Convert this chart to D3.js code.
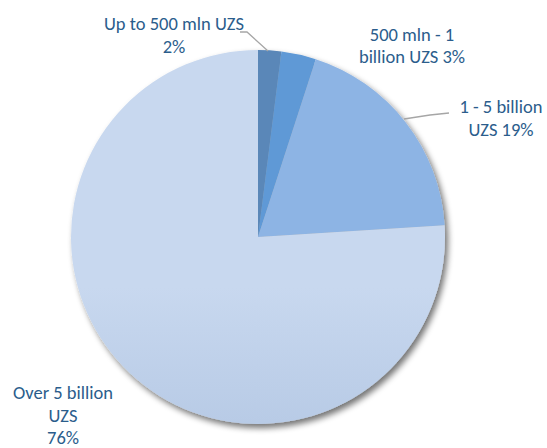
<!DOCTYPE html>
<html>
<head>
<meta charset="utf-8">
<script src="https://cdn.jsdelivr.net/npm/d3@7"></script>
<style>
  html, body { margin: 0; padding: 0; background: #fff; }
  svg { display: block; }
</style>
</head>
<body>
<svg id="chart" width="547" height="448"></svg>
<script>
// Share of entities by size band
const categories = ["Up to 500 mln UZS", "500 mln - 1 billion UZS", "1 - 5 billion UZS", "Over 5 billion UZS"];
const shares = [2, 3, 19, 76];
// Label lines as drawn next to each slice
const labelLines = [
  ["Up to 500 mln UZS", "2%"],
  ["500 mln - 1", "billion UZS 3%"],
  ["1 - 5 billion", "UZS 19%"],
  ["Over 5 billion", "UZS", "76%"]
];
// Gradient stops (top, bottom) per slice
const sliceTop = ["#5a87b8", "#5e99d6", "#8db4e4", "#c8d8ef"];
const sliceBottom = ["#4a74a4", "#437bba", "#5283bf", "#9cb4d6"];

const width = 547, height = 448;
const cx = 258, cy = 237, r = 187;

const svg = d3.select("#chart");
const defs = svg.append("defs");

const shadow = defs.append("filter").attr("id", "shadow")
  .attr("x", "-20%").attr("y", "-20%").attr("width", "140%").attr("height", "140%");
shadow.append("feGaussianBlur").attr("in", "SourceAlpha").attr("stdDeviation", 3).attr("result", "b");
shadow.append("feOffset").attr("in", "b").attr("dx", 3).attr("dy", 4).attr("result", "o");
shadow.append("feComponentTransfer").attr("in", "o").attr("result", "s")
  .append("feFuncA").attr("type", "linear").attr("slope", 0.55);
const merge = shadow.append("feMerge");
merge.append("feMergeNode").attr("in", "s");
merge.append("feMergeNode").attr("in", "SourceGraphic");

categories.forEach((c, i) => {
  const g = defs.append("linearGradient").attr("id", "grad" + i)
    .attr("gradientUnits", "userSpaceOnUse")
    .attr("x1", 0).attr("y1", cy - r).attr("x2", 0).attr("y2", cy + r);
  g.append("stop").attr("offset", 0).attr("stop-color", sliceTop[i]);
  g.append("stop").attr("offset", 1).attr("stop-color", sliceBottom[i]);
});

const pie = d3.pie().value(d => d).sort(null);
const arcs = pie(shares);
const arc = d3.arc().innerRadius(0).outerRadius(r);

const pieG = svg.append("g").attr("transform", `translate(${cx},${cy})`);
const sliceG = pieG.append("g").attr("filter", "url(#shadow)");
sliceG.selectAll("path").data(arcs).enter().append("path")
  .attr("d", arc)
  .attr("fill", (d, i) => `url(#grad${i})`)
  .attr("stroke", "none");

// Leader lines
const leaders = [
  [[240, 32], [247, 32], [268, 51]],
  null,
  [[449, 113], [430, 115], [404, 119]],
  null
];
svg.append("g").selectAll("path").data(leaders.filter(d => d)).enter().append("path")
  .attr("d", d => d3.line()(d))
  .attr("fill", "none").attr("stroke", "#a6a6a6").attr("stroke-width", 1.3);

// Labels
const labelPos = [
  { x: 174, y: 30 },
  { x: 412, y: 41 },
  { x: 501, y: 113 },
  { x: 63, y: 399 }
];
const lineH = [23, 22, 23, 22.5];
const labels = svg.append("g")
  .attr("font-family", "Carlito, Lato, 'Open Sans', sans-serif")
  .attr("font-size", 18.5)
  .attr("fill", "#2b5d8c");
labelLines.forEach((lines, i) => {
  const p = labelPos[i];
  const t = labels.append("text").attr("text-anchor", "middle");
  lines.forEach((ln, j) => {
    t.append("tspan").attr("x", p.x).attr("y", p.y + j * lineH[i]).text(ln);
  });
});
</script>
</body>
</html>
